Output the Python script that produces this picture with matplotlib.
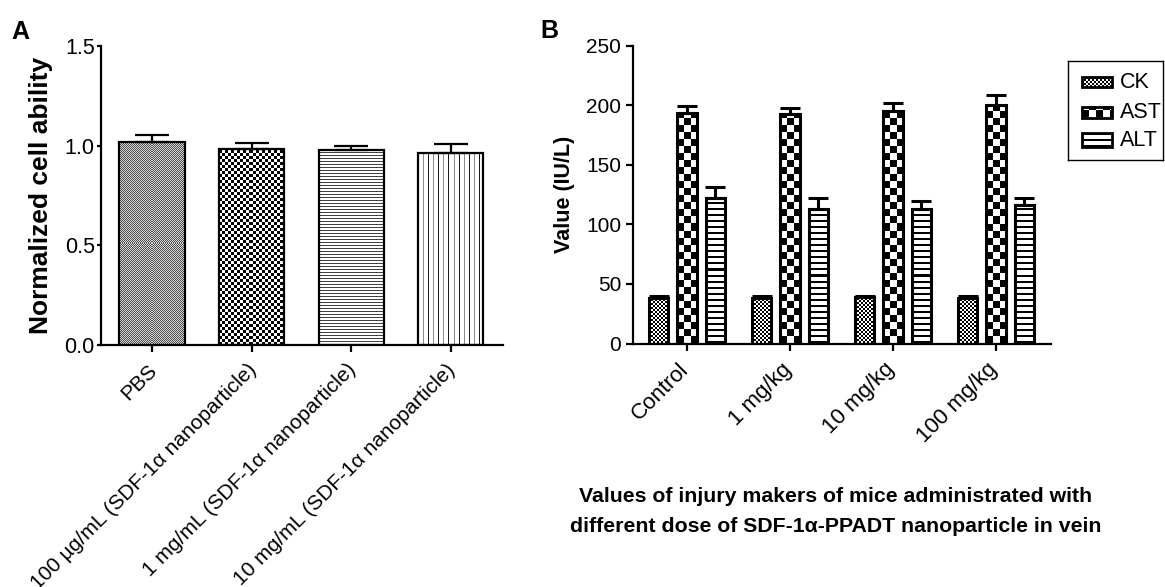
import matplotlib
matplotlib.use("Agg")
import matplotlib.pyplot as plt
import numpy as np
from matplotlib.patches import Rectangle
from matplotlib.transforms import ScaledTranslation

plt.rcParams['font.family'] = ['Liberation Sans', 'DejaVu Sans']

# panel A data
a_labels = ["PBS", "100 µg/mL (SDF-1α nanoparticle)",
            "1 mg/mL (SDF-1α nanoparticle)", "10 mg/mL (SDF-1α nanoparticle)"]
a_vals = [1.020, 0.983, 0.977, 0.965]
a_err = [0.034, 0.029, 0.021, 0.042]

# panel B data
b_labels = ["Control", "1 mg/kg", "10 mg/kg", "100 mg/kg"]
ck = [38.5, 38.5, 38.8, 38.5]
ck_err = [1.0, 1.0, 1.0, 1.0]
ast = [193.2, 192.3, 194.8, 199.9]
ast_err = [6.1, 5.1, 6.8, 8.4]
alt = [122.0, 112.5, 112.5, 115.9]
alt_err = [9.0, 9.3, 6.8, 6.2]

W, H = 1165, 587
fig = plt.figure(figsize=(W / 100, H / 100), dpi=100)


# texture patterns, value 0 = black, 1 = white
def fine_gray(yy, xx):
    return np.where((xx + yy) % 2 == 0, 0.3, 0.85)

def checker3(yy, xx):
    return ((xx // 3 + yy // 3) % 2).astype(float)

def hlines_a(yy, xx):
    return np.where(yy % 3 == 0, 0.25, 1.0)

def vlines_a(yy, xx):
    return np.where(xx % 10 == 0, 0.1, np.where(xx % 10 == 5, 0.55, 1.0))

def fine_bw(yy, xx):
    return ((xx // 2 + yy // 2) % 2).astype(float)

def checker7(yy, xx):
    return ((xx // 7 + yy // 7) % 2).astype(float)

def hlines_b(yy, xx):
    return np.where(yy % 6 < 2, 0.0, 1.0)


def texture(ax, rect, pattern):
    x0, y0 = rect.get_x(), rect.get_y()
    w, h = rect.get_width(), rect.get_height()
    p0 = ax.transData.transform((x0, y0))
    p1 = ax.transData.transform((x0 + w, y0 + h))
    nw = max(int(round(abs(p1[0] - p0[0]))), 1)
    nh = max(int(round(abs(p1[1] - p0[1]))), 1)
    yy, xx = np.mgrid[0:nh, 0:nw]
    img = pattern(yy, xx)
    ax.imshow(img, extent=(x0, x0 + w, y0, y0 + h), origin='lower', cmap='gray',
              vmin=0, vmax=1, interpolation='nearest', aspect='auto', zorder=2)


def style_axes(ax):
    for s in ['top', 'right']:
        ax.spines[s].set_visible(False)
    for s in ['left', 'bottom']:
        ax.spines[s].set_linewidth(1.6)
    ax.tick_params(width=1.6, length=5, direction='out')


def shift_labels(ax, dx_px):
    off = ScaledTranslation(dx_px / 100, 0, fig.dpi_scale_trans)
    for lab in ax.get_xticklabels():
        lab.set_transform(lab.get_transform() + off)


# ---------- panel A ----------
axA = fig.add_axes([101 / W, (H - 345) / H, 402 / W, 299 / H])
xa = np.arange(len(a_vals))
axA.set_xlim(-0.512, 3.524)
axA.set_ylim(0, 1.5)
barsA = axA.bar(xa, a_vals, width=0.655, facecolor='none', edgecolor='black',
                linewidth=1.6, zorder=3)
for b, pat in zip(barsA, [fine_gray, checker3, hlines_a, vlines_a]):
    texture(axA, b, pat)
axA.errorbar(xa, a_vals, yerr=[np.zeros(4), a_err], fmt='none', ecolor='black',
             elinewidth=1.6, capsize=12.5, capthick=1.6, zorder=4)
axA.set_xlim(-0.512, 3.524)
axA.set_ylim(0, 1.5)
style_axes(axA)
axA.set_yticks([0.0, 0.5, 1.0, 1.5])
axA.set_yticklabels(["0.0", "0.5", "1.0", "1.5"], fontsize=15.5)
axA.tick_params(axis='y', length=3, pad=1.5)
axA.set_xticks(xa)
axA.set_xticklabels(a_labels, rotation=45, ha='right', va='top',
                    rotation_mode='anchor', fontsize=15)
axA.tick_params(axis='x', pad=6)
shift_labels(axA, -5)
axA.set_ylabel("Normalized cell ability", fontsize=19, fontweight='bold', labelpad=8)

# ---------- panel B ----------
axB = fig.add_axes([633 / W, (H - 343.5) / H, 418 / W, 297.8 / H])
xb = np.arange(len(b_labels))
axB.set_xlim(-0.524, 3.534)
axB.set_ylim(0, 250)
off, bw = 0.275, 0.19
series = [(ck, ck_err, -off, fine_bw), (ast, ast_err, 0.0, checker7), (alt, alt_err, off, hlines_b)]
for vals, errs, dx, pat in series:
    bars = axB.bar(xb + dx, vals, width=bw, facecolor='none', edgecolor='black',
                   linewidth=2.2, zorder=3)
    for b in bars:
        texture(axB, b, pat)
    axB.errorbar(xb + dx, vals, yerr=[np.zeros(4), errs], fmt='none', ecolor='black',
                 elinewidth=2.2, capsize=7, capthick=2.2, zorder=4)
axB.set_xlim(-0.524, 3.534)
axB.set_ylim(0, 250)
style_axes(axB)
axB.set_yticks([0, 50, 100, 150, 200, 250])
axB.set_yticklabels(["0", "50", "100", "150", "200", "250"], fontsize=15)
axB.set_xticks(xb)
axB.set_xticklabels(b_labels, rotation=45, ha='right', va='top',
                    rotation_mode='anchor', fontsize=16)
axB.tick_params(axis='x', pad=6)
shift_labels(axB, -9)
axB.set_ylabel("Value (IU/L)", fontsize=15.5, fontweight='bold', labelpad=8)

# legend for B, drawn by hand so the swatches carry the same textures
axL = fig.add_axes([1068 / W, (H - 160) / H, 95 / W, 99 / H])
axL.set_xlim(0, 95)
axL.set_ylim(0, 99)
axL.set_xticks([])
axL.set_yticks([])
for s in axL.spines.values():
    s.set_linewidth(1.0)
legend_rows = [("CK", 99 - 21, 10, fine_bw), ("AST", 99 - 51, 11, checker7),
               ("ALT", 99 - 79, 14, hlines_b)]
for name, yc, hh, pat in legend_rows:
    r = Rectangle((14, yc - hh / 2), 30, hh, facecolor='none', edgecolor='black',
                  linewidth=2.0, zorder=3)
    axL.add_patch(r)
    texture(axL, r, pat)
    axL.text(52, yc, name, fontsize=15.5, va='center', ha='left')
axL.set_xlim(0, 95)
axL.set_ylim(0, 99)

# captions and panel letters
cap_font = dict(ha='center', va='center', fontsize=15.3, fontweight='bold')
fig.text(836 / W, 1 - 497 / H,
         "Values of injury makers of mice administrated with", **cap_font)
fig.text(836 / W, 1 - 527 / H,
         "different dose of SDF-1α-PPADT nanoparticle in vein", **cap_font)
fig.text(11 / W, 1 - 32 / H, "A", fontsize=18, fontweight='bold', va='center')
fig.text(540 / W, 1 - 31 / H, "B", fontsize=18, fontweight='bold', va='center')

fig.savefig("out.png", dpi=100)
